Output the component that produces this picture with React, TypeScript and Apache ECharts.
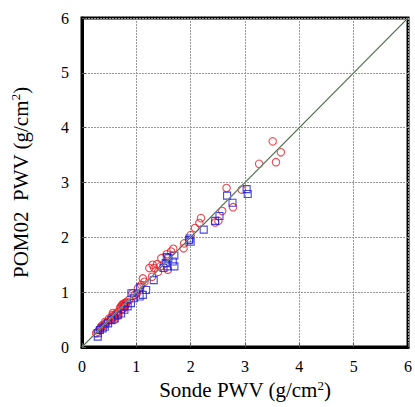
import React, { useEffect, useRef } from "react";
import * as echarts from "echarts";

const xTicks = ["0", "1", "2", "3", "4", "5", "6"];

const redCircles: number[][] = [
  [3.51, 3.75], [3.66, 3.55], [3.26, 3.34], [3.57, 3.37], [2.66, 2.9], [2.94, 2.87],
  [2.78, 2.55], [2.58, 2.48], [2.51, 2.3], [2.45, 2.27], [2.19, 2.35], [2.16, 2.26],
  [2.08, 2.17], [2.0, 2.04], [1.88, 1.89], [1.87, 1.8], [1.68, 1.79], [1.64, 1.74],
  [1.56, 1.69], [1.46, 1.62], [1.3, 1.5], [1.38, 1.51], [1.24, 1.44], [1.33, 1.44],
  [1.44, 1.47], [1.58, 1.41], [1.4, 1.37], [1.29, 1.28], [1.12, 1.25], [1.15, 1.19],
  [1.09, 1.13], [1.03, 1.07], [0.97, 0.95], [0.93, 0.98], [1.01, 0.98], [0.87, 0.86],
  [0.72, 0.74], [0.75, 0.78], [0.78, 0.8], [0.8, 0.76], [0.76, 0.7], [0.82, 0.82],
  [0.73, 0.69], [0.79, 0.73], [0.74, 0.76], [0.77, 0.75], [0.81, 0.79], [0.7, 0.71],
  [0.55, 0.54], [0.58, 0.56], [0.62, 0.6], [0.65, 0.63], [0.6, 0.5], [0.57, 0.62],
  [0.53, 0.5], [0.67, 0.58], [0.56, 0.58], [0.61, 0.55], [0.5, 0.52], [0.64, 0.57],
  [0.44, 0.43], [0.46, 0.45], [0.35, 0.37], [0.38, 0.4], [0.29, 0.28], [0.32, 0.32],
  [0.26, 0.25], [0.41, 0.39], [0.34, 0.34], [0.43, 0.46],
];

const blueSquares: number[][] = [
  [3.03, 2.88], [3.05, 2.79], [2.67, 2.76], [2.77, 2.63], [2.53, 2.39], [2.45, 2.3],
  [2.24, 2.14], [1.97, 1.95], [2.0, 1.92], [1.98, 1.98], [1.59, 1.62], [1.54, 1.53],
  [1.57, 1.47], [1.5, 1.44], [1.67, 1.56], [1.7, 1.47], [1.56, 1.64], [1.7, 1.67],
  [1.32, 1.22], [1.07, 1.09], [1.12, 0.95], [0.91, 0.98], [1.06, 0.92], [1.18, 1.04],
  [0.96, 0.89], [0.9, 0.8], [0.84, 0.74], [0.78, 0.68], [0.72, 0.61], [0.66, 0.58],
  [0.6, 0.52], [0.54, 0.49], [0.48, 0.43], [0.38, 0.34], [0.29, 0.25], [0.29, 0.19],
  [0.33, 0.31], [0.42, 0.37],
];

const oneToOne: number[][] = [[0, 0], [6, 6]];

const FONT = "'Liberation Serif', 'Times New Roman', serif";

export default function App() {
  const ref = useRef<HTMLDivElement>(null);
  useEffect(() => {
    if (!ref.current) return;
    const chart = echarts.init(ref.current, undefined, { renderer: "svg" });
    const axisCommon = {
      min: 0,
      max: 6,
      interval: 1,
      axisLine: { show: true, onZero: false, lineStyle: { color: "#000", width: 3 } },
      axisTick: { show: true, inside: true, length: 4, lineStyle: { color: "#555", width: 1 } },
      splitLine: { show: true, lineStyle: { color: "#999", type: [2, 1], width: 1 } },
      axisLabel: {
        color: "#000",
        fontFamily: FONT,
        fontSize: 16,
        formatter: (v: number) => xTicks[Math.round(v)] ?? String(v),
      },
      nameLocation: "middle" as const,
      nameTextStyle: {
        color: "#000",
        fontFamily: FONT,
        fontSize: 21,
        rich: {
          n: { fontFamily: FONT, fontSize: 21, color: "#000" },
          sup: { fontFamily: FONT, fontSize: 13, color: "#000", verticalAlign: "top", padding: [0, 0, 10, 0] },
        },
      },
    };
    chart.setOption({
      animation: false,
      backgroundColor: "#fff",
      grid: {
        left: 82,
        top: 18,
        width: 329,
        height: 329,
        show: true,
        borderColor: "#000",
        borderWidth: 3,
        backgroundColor: "transparent",
      },
      xAxis: {
        type: "value",
        ...axisCommon,
        axisLabel: { ...axisCommon.axisLabel, margin: 11 },
        name: "{n|Sonde PWV (g/cm}{sup|2}{n|)}",
        nameGap: 29,
      },
      yAxis: {
        type: "value",
        ...axisCommon,
        axisLabel: { ...axisCommon.axisLabel, margin: 13 },
        name: "{n|POM02\u00a0 PWV (g/cm}{sup|2}{n|)}",
        nameGap: 50,
        nameRotate: 90,
      },
      series: [
        {
          type: "scatter",
          data: redCircles,
          symbol: "circle",
          symbolSize: 7.5,
          itemStyle: { color: "rgba(255,255,255,0)", borderColor: "#e81c24", borderWidth: 1.1 },
          z: 3,
        },
        {
          type: "scatter",
          data: blueSquares,
          symbol: "rect",
          symbolSize: 7,
          itemStyle: { color: "rgba(255,255,255,0)", borderColor: "#1a1ad8", borderWidth: 1.1 },
          z: 4,
        },
        {
          type: "line",
          data: oneToOne,
          symbol: "none",
          lineStyle: { color: "#a8b8a8", width: 1.6 },
          z: 5,
        },
        {
          type: "line",
          data: oneToOne,
          symbol: "none",
          lineStyle: { color: "#2f4f2f", width: 0.8 },
          z: 6,
        },
      ],
    });
    return () => chart.dispose();
  }, []);
  return (
    <div
      ref={ref}
      style={{ position: "absolute", left: 0, top: 0, width: 415, height: 407 }}
    />
  );
}
